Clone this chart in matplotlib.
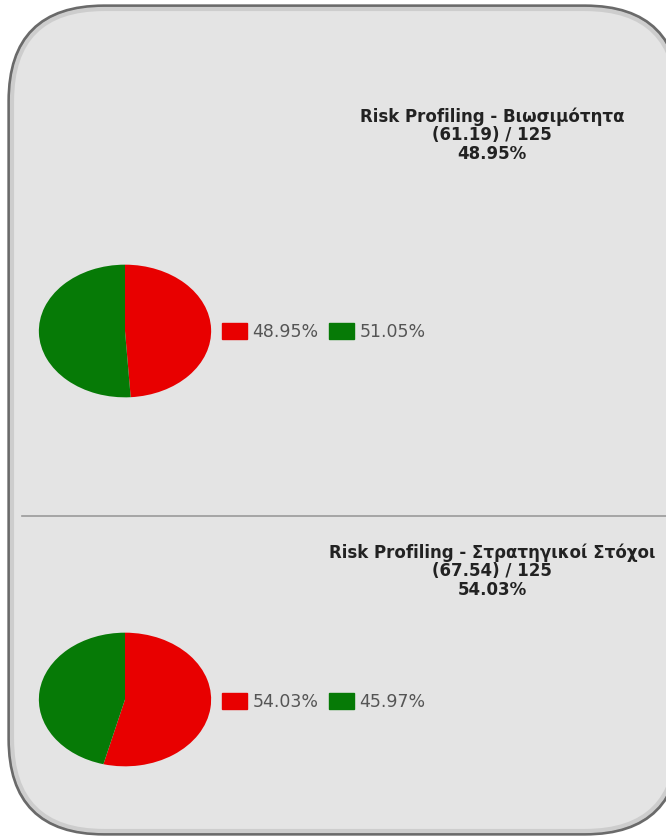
import matplotlib.pyplot as plt
import matplotlib.patches as mpatches
from matplotlib.patches import FancyBboxPatch

# chart data
titles = ['Risk Profiling - Βιωσιμότητα', 'Risk Profiling - Στρατηγικοί Στόχοι']
scores = [61.19, 67.54]
max_score = 125
risk_pct = [48.95, 54.03]
rest_pct = [51.05, 45.97]
colors = ['#e80000', '#067a06']

W, H = 666, 838
fig = plt.figure(figsize=(W / 100, H / 100), dpi=100)
fig.patch.set_facecolor('white')

# background panel in pixel coords
bg = fig.add_axes([0, 0, 1, 1])
bg.set_xlim(0, W)
bg.set_ylim(H, 0)
bg.axis('off')
# both patches filled, so the edge is drawn without clipping problems
bg.add_patch(FancyBboxPatch((9, 6), 671, 828, boxstyle='round,pad=0,rounding_size=95',
                            facecolor='#e4e4e4', edgecolor='#6a6a6a', linewidth=2.4))
bg.add_patch(FancyBboxPatch((12, 9), 665, 822, boxstyle='round,pad=0,rounding_size=92',
                            facecolor='#e4e4e4', edgecolor='#cdcdcd', linewidth=3))
bg.plot([22, W], [516, 516], color='#9a9a9a', lw=1.2)

# pie blocks: (pie box top, pie box bottom, title centre y, legend centre y)
blocks = [(264, 398, 135, 332), (632, 767, 571, 702)]

for i, (top, bot, ty, ly) in enumerate(blocks):
    ax = fig.add_axes([38 / W, 1 - bot / H, 174 / W, (bot - top) / H])
    wedges, _ = ax.pie([risk_pct[i], rest_pct[i]], colors=colors, startangle=90,
                       counterclock=False, wedgeprops=dict(linewidth=0))
    ax.set_aspect('auto')
    ax.set_xlim(-1.01, 1.01)
    ax.set_ylim(-1.01, 1.01)

    fig.text(492 / W, 1 - ty / H,
             '%s\n(%.2f) / %d\n%.2f%%' % (titles[i], scores[i], max_score, risk_pct[i]),
             ha='center', va='center', fontsize=12, fontweight='bold',
             color='#222222', linespacing=1.02)

    handles = [mpatches.Patch(color=colors[0], label='%.2f%%' % risk_pct[i]),
               mpatches.Patch(color=colors[1], label='%.2f%%' % rest_pct[i])]
    fig.legend(handles=handles, loc='center left', ncol=2, frameon=False,
               bbox_to_anchor=(222 / W, 1 - ly / H), borderpad=0, borderaxespad=0,
               fontsize=12.5, labelcolor='#555555', handlelength=1.45,
               handleheight=1.05, handletextpad=0.3, columnspacing=0.6)

fig.savefig('out.png', dpi=100, facecolor='white')
